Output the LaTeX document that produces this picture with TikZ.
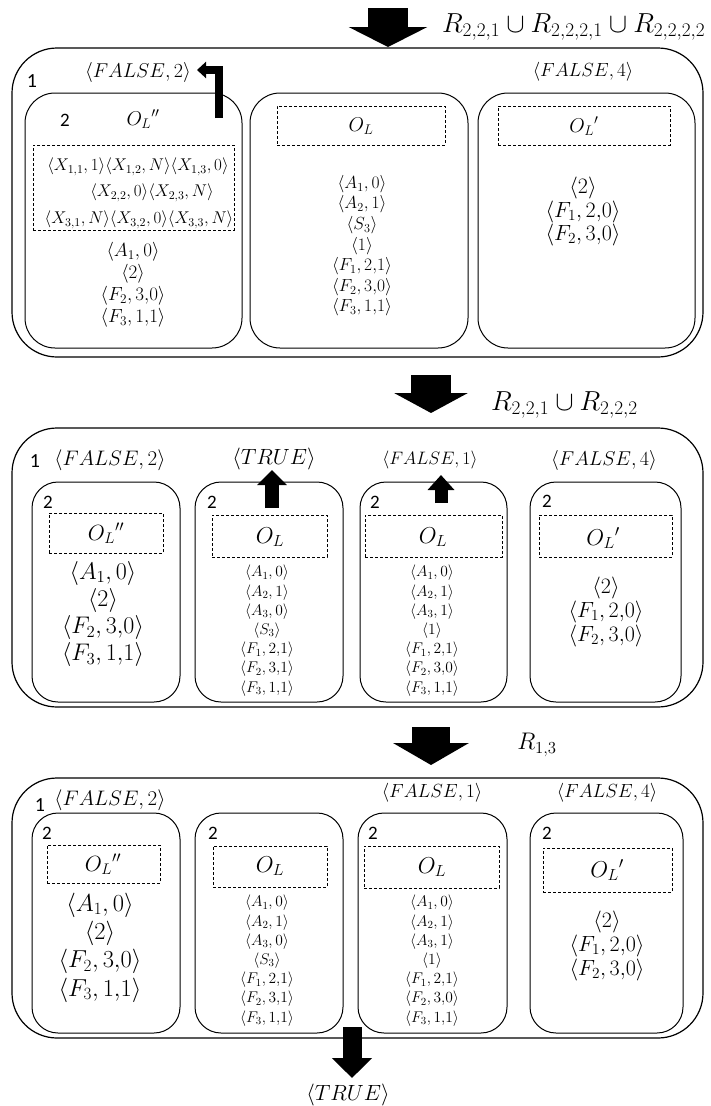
\RequirePackage{fix-cm}
\documentclass[tikz,border=0pt]{standalone}
\usepackage{fontspec}
\newfontfamily\carl{Carlito}
\usetikzlibrary{arrows.meta,fit}
\newcommand\fsz[1]{\fontsize{#1}{#1}\selectfont}
\newcommand\liststack[6]{\foreach \itm [count=\i] in {#6}{\node[font=\fsz{#5}, inner sep=0pt] (#1\i) at (#2,{#3+(\i-1)*#4}) {$\langle\itm\rangle$};}}
\tikzset{
  boxo/.style={draw, rounded corners=45pt, line width=1.2pt, inner sep=0pt},
  boxi/.style={draw, rounded corners=#1, line width=1pt, inner sep=0pt},
  boxi/.default=26pt,
  dbox/.style={draw, line width=0.7pt, dash pattern=on 3pt off 2pt, inner sep=0pt},
  numlbl/.style={font=\carl\fsz{#1}, inner sep=0pt},
  numlbl/.default=19,
  txt/.style={font=\fsz{#1}, inner sep=0pt},
}
\begin{document}
\begin{tikzpicture}[x=1pt,y=-1pt]
\useasboundingbox (0,0) rectangle (710,1106);
% ================= TOP =================
\coordinate (a1s) at (388,8);
\coordinate (a1e) at (388,47);
\draw[line width=40pt, -{Triangle[width=78pt,length=20pt]}] (a1s) -- (a1e);
\node[txt=27.5, anchor=west] (r1) at (442,27) {$R_{2,2,1}\cup R_{2,2,2,1}\cup R_{2,2,2,2}$};
\node[boxo, fit={(12,48) (703,357)}] (o1) {};
\node[numlbl=20] (n1a) at (32,81) {1};
\node[txt=20] (f2a) at (138,72) {$\langle FALSE,2\rangle$};
\node[txt=19] (f4a) at (583,72) {$\langle FALSE,4\rangle$};
% box 1a
\node[boxi=30pt, fit={(25,93) (242,348)}] (i1a) {};
\node[numlbl] (n2a) at (65,120) {2};
\node[txt=20] (ol1a) at (143,119) {${O_L}''$};
\node[dbox, fit={(33,145) (234,230)}] (d1a) {};
\node[txt=17] (x1) at (138,167) {$\langle X_{1,1},1\rangle\langle X_{1,2},N\rangle\langle X_{1,3},0\rangle$};
\node[txt=17] (x2) at (152,193) {$\langle X_{2,2},0\rangle\langle X_{2,3},N\rangle$};
\node[txt=17] (x3) at (139,220) {$\langle X_{3,1},N\rangle\langle X_{3,2},0\rangle\langle X_{3,3},N\rangle$};
\liststack{la}{133}{252}{22}{19}{{A_1,0},{2},{F_2,3{,}0},{F_3,1{,}1}}
\coordinate (e1) at (219,118);
\coordinate (e2) at (197,70);
\draw[line width=8pt, line join=miter, -{Triangle[width=16pt,length=9pt]}] (e1) |- (e2);
% box 1b
\node[boxi=30pt, fit={(250,93) (468,348)}] (i1b) {};
\node[dbox, fit={(277,106) (445,145)}] (d1b) {};
\node[txt=20] (ol1b) at (361,126) {$O_L$};
\liststack{lb}{362}{184}{20.6}{17.5}{{A_1,0},{A_2,1},{S_3},{1},{F_1,2{,}1},{F_2,3{,}0},{F_3,1{,}1}}
% box 1c
\node[boxi=30pt, fit={(478,93) (695,348)}] (i1c) {};
\node[dbox, fit={(498,106) (670,145)}] (d1c) {};
\node[txt=20] (ol1c) at (584,126) {${O_L}'$};
\liststack{lc}{583}{188}{23.5}{22}{{2},{F_1,2{,}0},{F_2,3{,}0}}
% ================= MIDDLE =================
\coordinate (a2s) at (431,375);
\coordinate (a2e) at (431,413);
\draw[line width=40pt, -{Triangle[width=73pt,length=20pt]}] (a2s) -- (a2e);
\node[txt=27.5, anchor=west] (r2) at (491,405) {$R_{2,2,1}\cup R_{2,2,2}$};
\node[boxo, fit={(12,428) (703,707)}] (o2) {};
\node[numlbl=20] (n1b) at (35,461) {1};
\node[txt=21] (f2b) at (110,460) {$\langle FALSE,2\rangle$};
\node[txt=22] (tb) at (274,459) {$\langle TRUE\rangle$};
\node[txt=18] (f1b) at (430,460) {$\langle FALSE,1\rangle$};
\node[txt=20] (f4b) at (604,460) {$\langle FALSE,4\rangle$};
% B1
\node[boxi, fit={(32,482) (180,702)}] (i2a) {};
\node[numlbl] (m2a) at (48,502) {2};
\node[dbox, fit={(49,513) (163,553)}] (d2a) {};
\node[txt=22] (ol2a) at (106,533) {${O_L}''$};
\liststack{ma}{103}{573}{27.3}{24}{{A_1,0},{2},{F_2,3{,}0},{F_3,1{,}1}}
% B2
\node[boxi, fit={(195,482) (343,702)}] (i2b) {};
\node[numlbl] (m2b) at (212,502) {2};
\node[dbox, fit={(212,515) (327,557)}] (d2b) {};
\node[txt=23] (ol2b) at (270,537) {$O_L$};
\liststack{mb}{267}{573}{19.2}{15.5}{{A_1,0},{A_2,1},{A_3,0},{S_3},{F_1,2{,}1},{F_2,3{,}1},{F_3,1{,}1}}
\coordinate (u1s) at (272,508);
\coordinate (u1e) at (272,470);
\draw[line width=14pt, -{Triangle[width=29pt,length=15pt]}] (u1s) -- (u1e);
% B3
\node[boxi, fit={(360,482) (507,702)}] (i2c) {};
\node[numlbl] (m2c) at (375,502) {2};
\node[dbox, fit={(365,515) (502,557)}] (d2c) {};
\node[txt=23] (ol2c) at (433,537) {$O_L$};
\liststack{mc}{432}{573}{19.2}{15.5}{{A_1,0},{A_2,1},{A_3,1},{1},{F_1,2{,}1},{F_2,3{,}0},{F_3,1{,}1}}
\coordinate (u2s) at (441,503);
\coordinate (u2e) at (441,475);
\draw[line width=13pt, -{Triangle[width=26pt,length=15pt]}] (u2s) -- (u2e);
% B4
\node[boxi, fit={(530,482) (681,702)}] (i2d) {};
\node[numlbl] (m2d) at (547,501) {2};
\node[dbox, fit={(539,515) (672,557)}] (d2d) {};
\node[txt=23] (ol2d) at (603,538) {${O_L}'$};
\liststack{md}{606}{588}{24}{22}{{2},{F_1,2{,}0},{F_2,3{,}0}}
% ================= BOTTOM =================
\coordinate (a3s) at (431,727);
\coordinate (a3e) at (431,765);
\draw[line width=38pt, -{Triangle[width=75pt,length=22pt]}] (a3s) -- (a3e);
\node[txt=24] (r3) at (537,745) {$R_{1,3}$};
\node[boxo, fit={(12,778) (703,1038)}] (o3) {};
\node[numlbl=20] (n1c) at (40,805) {1};
\node[txt=21] (f2c) at (110,800) {$\langle FALSE,2\rangle$};
\node[txt=19] (f1c) at (432,793) {$\langle FALSE,1\rangle$};
\node[txt=19] (f4c) at (607,793) {$\langle FALSE,4\rangle$};
% C1
\node[boxi, fit={(32,813) (180,1033)}] (i3a) {};
\node[numlbl] (b2a) at (47,833) {2};
\node[dbox, fit={(47,845) (160,883)}] (d3a) {};
\node[txt=22] (ol3a) at (103,864) {${O_L}''$};
\liststack{ba}{100}{905}{28.3}{24.5}{{A_1,0},{2},{F_2,3{,}0},{F_3,1{,}1}}
% C2
\node[boxi, fit={(195,813) (343,1033)}] (i3b) {};
\node[numlbl] (b2b) at (213,833) {2};
\node[dbox, fit={(213,846) (327,887)}] (d3b) {};
\node[txt=23] (ol3b) at (270,866) {$O_L$};
\liststack{bb}{267}{903}{19.2}{15.5}{{A_1,0},{A_2,1},{A_3,0},{S_3},{F_1,2{,}1},{F_2,3{,}1},{F_3,1{,}1}}
% C3
\node[boxi, fit={(358,813) (507,1033)}] (i3c) {};
\node[numlbl] (b2c) at (373,833) {2};
\node[dbox, fit={(364,846) (499,888)}] (d3c) {};
\node[txt=23] (ol3c) at (432,867) {$O_L$};
\liststack{bc}{432}{903}{19.2}{15.5}{{A_1,0},{A_2,1},{A_3,1},{1},{F_1,2{,}1},{F_2,3{,}0},{F_3,1{,}1}}
% C4
\node[boxi, fit={(530,813) (683,1033)}] (i3d) {};
\node[numlbl] (b2d) at (547,833) {2};
\node[dbox, fit={(543,848) (672,892)}] (d3d) {};
\node[txt=23] (ol3d) at (607,870) {${O_L}'$};
\liststack{bd}{607}{922}{24}{22}{{2},{F_1,2{,}0},{F_2,3{,}0}}
% final arrow
\coordinate (a4s) at (352,1027);
\coordinate (a4e) at (352,1078);
\draw[line width=19pt, -{Triangle[width=39pt,length=20pt]}] (a4s) -- (a4e);
\node[txt=22] (td) at (348,1095) {$\langle TRUE\rangle$};
\end{tikzpicture}
\end{document}
